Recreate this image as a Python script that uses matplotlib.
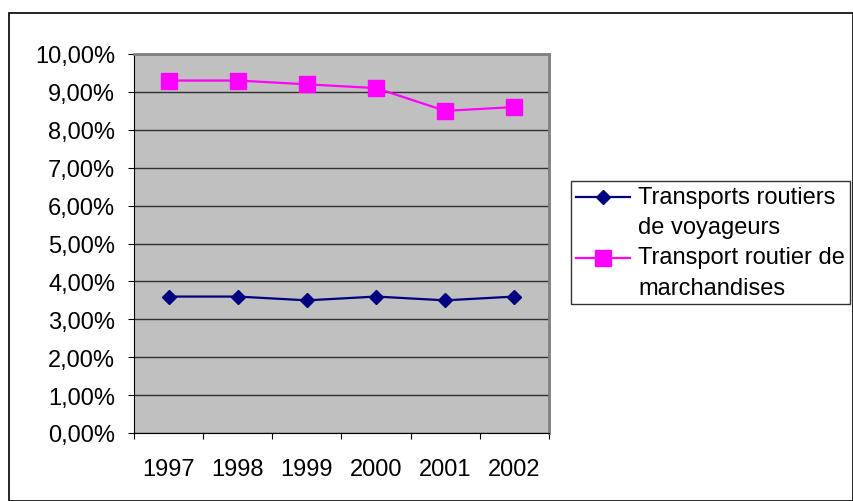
import matplotlib.pyplot as plt
from matplotlib.patches import Rectangle
from matplotlib.legend_handler import HandlerLine2D
from matplotlib.ticker import FuncFormatter, MultipleLocator

years = ['1997', '1998', '1999', '2000', '2001', '2002']
voyageurs = [3.6, 3.6, 3.5, 3.6, 3.5, 3.6]
marchandises = [9.3, 9.3, 9.2, 9.1, 8.5, 8.6]
labels = ['Transports routiers\nde voyageurs', 'Transport routier de\nmarchandises']

plt.rcParams['font.family'] = ['Liberation Sans', 'DejaVu Sans']
FS = 17


class TopLineHandler(HandlerLine2D):
    # put the legend marker on the first line of a two-line label
    def create_artists(self, legend, orig_handle, xdescent, ydescent, width, height, fontsize, trans):
        return super().create_artists(legend, orig_handle, xdescent, ydescent - 22,
                                      width, height, fontsize, trans)


W, H = 854, 502
fig = plt.figure(figsize=(W / 100, H / 100), dpi=100)

# outer chart border
fig.patches.append(Rectangle((9 / W, 0), (W - 10) / W, (H - 14) / H, transform=fig.transFigure,
                             fill=False, edgecolor='black', linewidth=1.2))

left, right, top, bottom = 134, 549, 55, 434
ax = fig.add_axes([left / W, 1 - bottom / H, (right - left) / W, (bottom - top) / H])
ax.set_facecolor('#C0C0C0')

x = [i + 0.5 for i in range(len(years))]
l1, = ax.plot(x, voyageurs, color='#000080', marker='D', markersize=7, linewidth=1.6, label=labels[0])
l2, = ax.plot(x, marchandises, color='#FF00FF', marker='s', markersize=11, linewidth=1.6, label=labels[1])

ax.set_xlim(0, len(years))
ax.set_ylim(0, 10)
ax.yaxis.set_major_locator(MultipleLocator(1))
ax.yaxis.set_major_formatter(FuncFormatter(lambda v, p: f'{v:.2f}%'.replace('.', ',')))
ax.set_xticks(range(len(years) + 1))
ax.set_xticklabels([''] * (len(years) + 1))
ax.set_xticks(x, minor=True)
ax.set_xticklabels(years, minor=True)
ax.tick_params(axis='x', which='minor', length=0, pad=18, labelsize=FS)
ax.tick_params(axis='x', which='major', length=4.5, direction='out')
ax.tick_params(axis='y', length=4.5, direction='out', pad=9, labelsize=FS)
ax.grid(axis='y', color='#303030', linewidth=1)
ax.set_axisbelow(True)

for s in ['top', 'right']:
    ax.spines[s].set_color('#808080')
    ax.spines[s].set_linewidth(2)
for s in ['left', 'bottom']:
    ax.spines[s].set_color('black')

leg = fig.legend(handles=[l1, l2], loc='upper left', bbox_to_anchor=(571 / W, 1 - 182 / H),
                 fontsize=FS, frameon=True, fancybox=False, edgecolor='black',
                 handlelength=2.3, handletextpad=0.35, borderpad=0.2, labelspacing=0.35,
                 borderaxespad=0, handler_map={l1: TopLineHandler(), l2: TopLineHandler()})
leg.get_frame().set_linewidth(1)
for t in leg.get_texts():
    t.set_linespacing(1.5)

fig.savefig('out.png', dpi=100)
